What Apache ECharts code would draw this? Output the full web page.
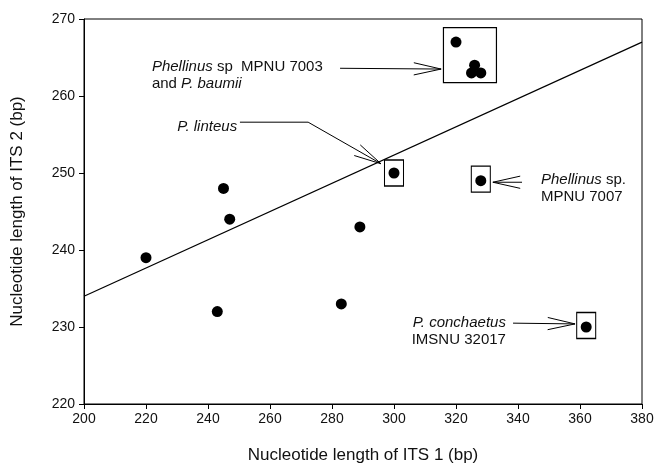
<!DOCTYPE html>
<html>
<head>
<meta charset="utf-8">
<script src="https://cdn.jsdelivr.net/npm/echarts@6/dist/echarts.min.js"></script>
<style>
  html, body { margin: 0; padding: 0; background: #fff; }
  #chart { width: 659px; height: 471px; }
</style>
</head>
<body>
<div id="chart"></div>
<script>
// ITS1 / ITS2 lengths (bp)
const its1 = [220, 243, 245, 247, 283, 289, 300, 328, 362, 320, 326, 325, 328]
const its2 = [239, 232, 248, 244, 233, 243, 250, 249, 230, 267, 264, 263, 263]
// regression line end points
const lineX = [200, 380]
const lineY = [234, 267]
// boxes drawn around highlighted samples [x, y]
const boxCenters = [[300, 250], [328, 249.2], [362, 230.2]]
const clusterBox = [[324.5, 265.3]]
const xTicks = { min: 200, max: 380, interval: 20 }
const yTicks = { min: 220, max: 270, interval: 10 }

const FONT = 'Liberation Sans, Arial, sans-serif'

const chart = echarts.init(document.getElementById('chart'))

const points = its1.map((x, i) => [x, its2[i]])
const linePts = lineX.map((x, i) => [x, lineY[i]])

chart.setOption({
  backgroundColor: '#fff',
  animation: false,
  grid: {
    left: 84, right: 17, top: 19, bottom: 67,
    show: true, borderColor: '#000', borderWidth: 1, backgroundColor: 'transparent'
  },
  xAxis: {
    type: 'value',
    min: xTicks.min, max: xTicks.max, interval: xTicks.interval,
    name: 'Nucleotide length of ITS 1 (bp)',
    nameLocation: 'middle', nameGap: 43,
    nameTextStyle: { fontFamily: FONT, fontSize: 17, color: '#111' },
    axisLine: { lineStyle: { color: '#000', width: 1 } },
    axisTick: { inside: false, length: 5, lineStyle: { color: '#000' } },
    axisLabel: { fontFamily: FONT, fontSize: 14, color: '#111', margin: 8 },
    splitLine: { show: false }
  },
  yAxis: {
    type: 'value',
    min: yTicks.min, max: yTicks.max, interval: yTicks.interval,
    name: 'Nucleotide length of ITS 2 (bp)',
    nameLocation: 'middle', nameGap: 58,
    nameTextStyle: { fontFamily: FONT, fontSize: 17, color: '#111' },
    axisLine: { show: true, lineStyle: { color: '#000', width: 1 } },
    axisTick: { show: true, length: 5, lineStyle: { color: '#000' } },
    axisLabel: { fontFamily: FONT, fontSize: 14, color: '#111', margin: 9 },
    splitLine: { show: false }
  },
  series: [
    {
      type: 'line',
      data: linePts,
      symbol: 'none',
      lineStyle: { color: '#000', width: 1.2 },
      z: 2
    },
    {
      type: 'scatter',
      data: points,
      symbol: 'circle',
      symbolSize: 11,
      itemStyle: { color: '#000', opacity: 1 },
      z: 4
    },
    {
      type: 'scatter',
      data: boxCenters,
      symbol: 'rect',
      symbolSize: [19, 26],
      itemStyle: { color: 'rgba(0,0,0,0)', borderColor: '#000', borderWidth: 1.2, opacity: 1 },
      z: 3
    },
    {
      type: 'scatter',
      data: clusterBox,
      symbol: 'rect',
      symbolSize: [53, 55],
      itemStyle: { color: 'rgba(0,0,0,0)', borderColor: '#000', borderWidth: 1.2, opacity: 1 },
      z: 3
    }
  ]
})

// annotations, anchored in data coordinates
const px = p => chart.convertToPixel({ gridIndex: 0 }, p)

const labels = [
  { at: [221.9, 263.8], align: 'left', lines: ['{i|Phellinus} sp  MPNU 7003', 'and {i|P. baumii}'] },
  { at: [249.4, 256.0], align: 'right', lines: ['{i|P. linteus}'] },
  { at: [347.4, 249.1], align: 'left', lines: ['{i|Phellinus} sp.', 'MPNU 7007'] },
  { at: [336.1, 230.6], align: 'right', lines: ['{i|P. conchaetus}', 'IMSNU 32017'] }
]

const arrows = [
  [[282.6, 263.6], [315.2, 263.5]],
  [[250.3, 256.6], [272.3, 256.6], [295.8, 251.2]],
  [[341.3, 248.8], [331.9, 248.8]],
  [[338.4, 230.5], [358.4, 230.4]]
]

const graphics = []
labels.forEach(l => {
  const p = px(l.at)
  l.lines.forEach((t, k) => {
    graphics.push({
      type: 'text',
      x: p[0], y: p[1] + k * 17,
      style: {
        text: t,
        fill: '#111',
        font: '15px ' + FONT,
        align: l.align,
        verticalAlign: 'middle',
        rich: { i: { fontStyle: 'italic', fontSize: 15, fontFamily: FONT, fill: '#111' } }
      }
    })
  })
})

arrows.forEach(a => {
  const pts = a.map(px)
  graphics.push({
    type: 'polyline',
    shape: { points: pts },
    style: { stroke: '#000', lineWidth: 1, fill: null }
  })
  // open arrow head
  const tip = pts[pts.length - 1]
  const prev = pts[pts.length - 2]
  const ang = Math.atan2(tip[1] - prev[1], tip[0] - prev[0])
  const len = 28, half = 0.22
  const h1 = [tip[0] - len * Math.cos(ang - half), tip[1] - len * Math.sin(ang - half)]
  const h2 = [tip[0] - len * Math.cos(ang + half), tip[1] - len * Math.sin(ang + half)]
  graphics.push({
    type: 'polyline',
    shape: { points: [h1, tip, h2] },
    style: { stroke: '#000', lineWidth: 1, fill: null }
  })
})

chart.setOption({ graphic: graphics })
</script>
</body>
</html>
